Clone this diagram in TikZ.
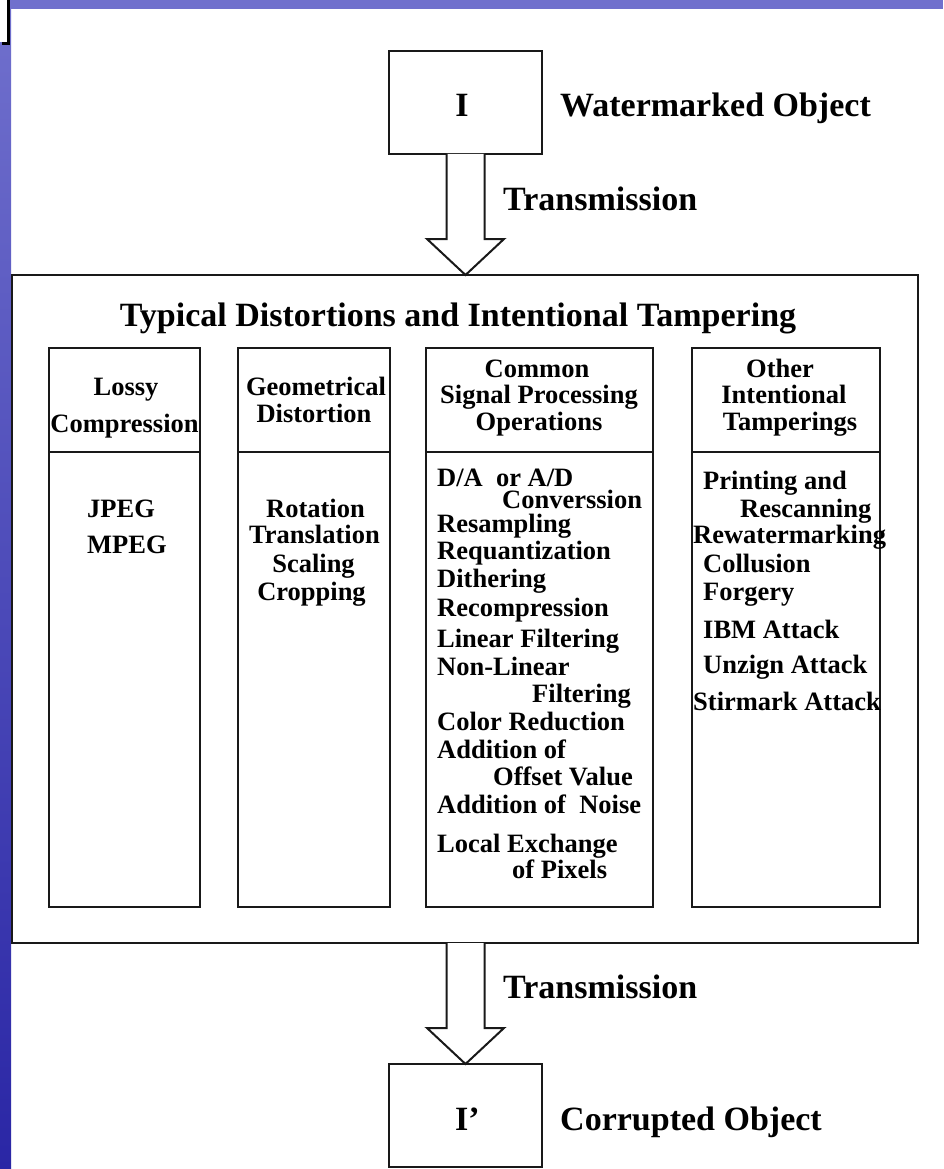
\documentclass[tikz,border=0pt]{standalone}
\usepackage{fontspec}
\setmainfont{Liberation Serif}
\usetikzlibrary{calc}
\definecolor{bandtop}{RGB}{112,112,205}
\definecolor{bandbot}{RGB}{42,38,165}
\definecolor{ink}{RGB}{25,25,25}
\begin{document}
\begin{tikzpicture}[x=1pt,y=-1pt,
  box/.style={draw=ink, line width=2pt, fill=white, inner sep=0, outer sep=0, anchor=north west},
  lbl/.style={font=\fontsize{34}{36}\selectfont\bfseries, inner sep=0, anchor=base west},
  ttl/.style={font=\fontsize{34}{36}\selectfont\bfseries, inner sep=0, anchor=base},
  txt/.style={font=\fontsize{26.5}{28}\selectfont\bfseries, inner sep=0, anchor=base west},
  hdr/.style={txt, anchor=base},
  blockarrow/.style={draw=ink, line width=2pt, fill=white, line join=miter},
  divider/.style={draw=ink, line width=2pt}]
\useasboundingbox (0,0) rectangle (943,1169);
\fill[white] (0,0) rectangle (943,1169);
\shade[top color=bandtop, bottom color=bandbot] (0,0) rectangle (11,1169);
\fill[bandtop] (0,0) rectangle (943,9);
\fill[white] (0,0) rectangle (8,42);
\draw[black, line width=3pt] (8.5,0) -- (8.5,43.5) -- (2,43.5);

% top object
\node[box, minimum width=153, minimum height=103] (I) at (389,51) {};
\node[lbl, anchor=base] (Itext) at (462,117) {I};
\node[lbl] (wm) at (560,117) {Watermarked Object};

% big box
\node[box, minimum width=906, minimum height=668] (big) at (12,275) {};
\node[ttl] (title) at (458,326) {Typical Distortions and Intentional Tampering};

% bottom object
\node[box, minimum width=153, minimum height=103] (Ip) at (389,1064) {};
\node[lbl] (Iptext) at (455,1130) {I’};
\node[lbl] (co) at (560,1130) {Corrupted Object};

% block arrows
\draw[blockarrow] ($(I.south)+(-19,0)$) -- ($(I.south)+(-19,85)$) -- ($(I.south)+(-38.5,85)$)
  -- (I.south |- big.north) -- ($(I.south)+(38.5,85)$) -- ($(I.south)+(19,85)$) -- ($(I.south)+(19,0)$);
\node[lbl] (tr1) at (503,210) {Transmission};
\coordinate (b2) at (I.south |- big.south);
\draw[blockarrow] ($(b2)+(-19,0)$) -- ($(b2)+(-19,85)$) -- ($(b2)+(-38.5,85)$)
  -- (I.south |- Ip.north) -- ($(b2)+(38.5,85)$) -- ($(b2)+(19,85)$) -- ($(b2)+(19,0)$);
\node[lbl] (tr2) at (503,998) {Transmission};

% columns
\node[box, minimum width=151, minimum height=559] (c1) at (49,348) {};
\node[box, minimum width=152, minimum height=559] (c2) at (238,348) {};
\node[box, minimum width=227, minimum height=559] (c3) at (426,348) {};
\node[box, minimum width=188, minimum height=559] (c4) at (692,348) {};
\foreach \c in {c1,c2,c3,c4}
  \draw[divider] (\c.west |- 0,452) -- (\c.east |- 0,452);

% headers
\node[hdr] (h1a) at (126,395) {Lossy};
\node[hdr] (h1b) at (124.5,432) {Compression};
\node[hdr] (h2a) at (316,395) {Geometrical};
\node[hdr] (h2b) at (314,422) {Distortion};
\node[hdr] (h3a) at (537,377) {Common};
\node[hdr] (h3b) at (539,403) {Signal Processing};
\node[hdr] (h3c) at (539,430) {Operations};
\node[hdr] (h4a) at (780,377) {Other};
\node[hdr] (h4b) at (784,403) {Intentional};
\node[hdr] (h4c) at (790,430) {Tamperings};

% column 1
\node[txt] (l1a) at (87,517) {JPEG};
\node[txt] (l1b) at (87,553) {MPEG};
% column 2
\node[hdr] (l2a) at (315.5,517) {Rotation};
\node[hdr] (l2b) at (314.5,543) {Translation};
\node[hdr] (l2c) at (313.5,572) {Scaling};
\node[hdr] (l2d) at (311.5,600) {Cropping};
% column 3
\node[txt] (l3a) at (437,486) {D/A\ \ or A/D};
\node[txt] (l3b) at (502,508) {Converssion};
\node[txt] (l3c) at (437,532) {Resampling};
\node[txt] (l3d) at (437,559) {Requantization};
\node[txt] (l3e) at (437,587) {Dithering};
\node[txt] (l3f) at (437,616) {Recompression};
\node[txt] (l3g) at (437,647) {Linear Filtering};
\node[txt] (l3h) at (437,675) {Non-Linear};
\node[txt] (l3i) at (532,702) {Filtering};
\node[txt] (l3j) at (437,730) {Color Reduction};
\node[txt] (l3k) at (437,758) {Addition of};
\node[txt] (l3l) at (493,785) {Offset Value};
\node[txt] (l3m) at (437,813) {Addition of\ \ Noise};
\node[txt] (l3n) at (437,852) {Local Exchange};
\node[txt] (l3o) at (512,878) {of Pixels};
% column 4
\node[txt] (l4a) at (703,489) {Printing and};
\node[txt] (l4b) at (740,517) {Rescanning};
\node[txt] (l4c) at (693,543) {Rewatermarking};
\node[txt] (l4d) at (703,572) {Collusion};
\node[txt] (l4e) at (703,600) {Forgery};
\node[txt] (l4f) at (703,638) {IBM Attack};
\node[txt] (l4g) at (703,673) {Unzign Attack};
\node[txt] (l4h) at (693,710) {Stirmark Attack};
\end{tikzpicture}
\end{document}
